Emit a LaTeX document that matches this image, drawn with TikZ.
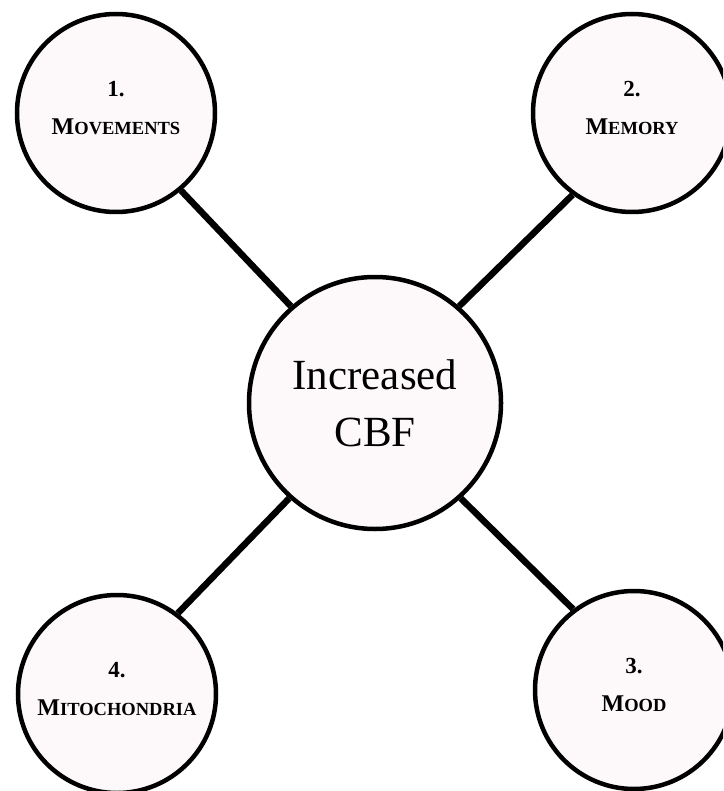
\documentclass[tikz,border=0pt]{standalone}
\usepackage{fontspec}
\setmainfont{Liberation Serif}
\definecolor{cellfill}{RGB}{253,249,250}
\newcommand{\scword}[2]{{\fontsize{24}{38}\selectfont #1}#2}
\tikzset{
  topic/.style={circle, draw, line width=4.5pt, fill=cellfill, minimum size=198pt,
    inner sep=0pt, align=center, text depth=10pt, font=\bfseries\fontsize{18.5}{38}\selectfont},
  hub/.style={circle, draw, line width=4.5pt, fill=cellfill, minimum size=252pt,
    inner sep=0pt, align=center, font=\fontsize{43}{57}\selectfont},
  spoke/.style={line width=6.5pt}
}
\begin{document}
\begin{tikzpicture}[x=1pt, y=-1pt]
\useasboundingbox (0,0) rectangle (723,791);
\clip (0,0) rectangle (723,791);
\node[hub] (cbf) at (375,403) {Increased\\CBF};
\node[topic] (mov) at (116,113) {{\fontsize{23}{38}\selectfont 1.}\\\scword{M}{OVEMENTS}};
\node[topic] (mem) at (632,113) {{\fontsize{23}{38}\selectfont 2.}\\\scword{M}{EMORY}};
\node[topic] (mood) at (634,690) {{\fontsize{23}{38}\selectfont 3.}\\\scword{M}{OOD}};
\node[topic] (mito) at (117,694) {{\fontsize{23}{38}\selectfont 4.}\\\scword{M}{ITOCHONDRIA}};
%\draw[help lines] (0,0) grid (723,791);
\draw[spoke] (mov.-50) -- (cbf.131);
\draw[spoke] (mem.234) -- (cbf.49);
\draw[spoke] (mito.53) -- (cbf.228);
\draw[spoke] (mood.127) -- (cbf.312);
\end{tikzpicture}
\end{document}
